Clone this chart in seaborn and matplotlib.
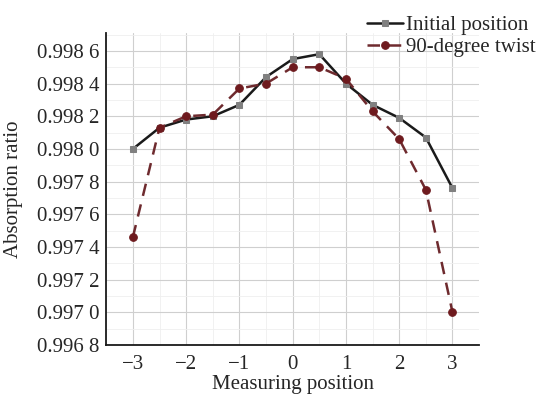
import pandas as pd
import seaborn as sns
import matplotlib.pyplot as plt
from matplotlib.ticker import FixedLocator, MultipleLocator

positions = [-3, -2.5, -2, -1.5, -1, -0.5, 0, 0.5, 1, 1.5, 2, 2.5, 3]
initial = [0.99800, 0.99813, 0.99818, 0.99820, 0.99827, 0.99844, 0.99855,
           0.99858, 0.99840, 0.99827, 0.99819, 0.99807, 0.99776]
twist = [0.99746, 0.99813, 0.99820, 0.99821, 0.99837, 0.99840, 0.99850,
         0.99850, 0.99843, 0.99823, 0.99806, 0.99775, 0.99700]

y_ticks = [0.9968, 0.9970, 0.9972, 0.9974, 0.9976, 0.9978, 0.9980,
           0.9982, 0.9984, 0.9986]
y_labels = ["0.996 8", "0.997 0", "0.997 2", "0.997 4", "0.997 6",
            "0.997 8", "0.998 0", "0.998 2", "0.998 4", "0.998 6"]
x_ticks = [-3, -2, -1, 0, 1, 2, 3]
x_labels = ["\u22123", "\u22122", "\u22121", "0", "1", "2", "3"]

df = pd.DataFrame({"pos": positions, "initial": initial, "twist": twist})

sns.set_style("white")
plt.rcParams["font.family"] = ["Liberation Serif", "DejaVu Serif"]

fig = plt.figure(figsize=(5.42, 3.97), dpi=100)
ax = fig.add_axes([0.196, 0.131, 0.688, 0.786])

sns.lineplot(data=df, x="pos", y="initial", ax=ax,
             color="#1a1a1a", linewidth=1.8,
             marker="s", markersize=5,
             markerfacecolor="#808080", markeredgecolor="#808080",
             label="Initial position")
sns.lineplot(data=df, x="pos", y="twist", ax=ax,
             color="#6e2a2e", linewidth=1.8, linestyle=(0, (5, 3.5)),
             marker="o", markersize=5.5,
             markerfacecolor="#6e1a1e", markeredgecolor="#6e1a1e",
             label="90-degree twist")

ax.set_xlim(-3.5, 3.5)
ax.set_ylim(0.9968, 0.99871)
ax.xaxis.set_major_locator(FixedLocator(x_ticks))
ax.set_xticklabels(x_labels)
ax.xaxis.set_minor_locator(MultipleLocator(0.5))
ax.yaxis.set_major_locator(FixedLocator(y_ticks))
ax.set_yticklabels(y_labels)
ax.yaxis.set_minor_locator(MultipleLocator(0.0001))

ax.grid(which="major", color="#cfcfcf", linewidth=0.8)
ax.grid(which="minor", color="#efefef", linewidth=0.6)
ax.set_axisbelow(True)
ax.tick_params(which="both", length=0, labelsize=15)
ax.tick_params(axis="x", pad=7)
ax.tick_params(axis="y", pad=5)

sns.despine(ax=ax)
for side in ["left", "bottom"]:
    ax.spines[side].set_color("#1a1a1a")
    ax.spines[side].set_linewidth(1.3)

ax.set_xlabel("Measuring position", fontsize=15, labelpad=1)
ax.set_ylabel("Absorption ratio", fontsize=15, labelpad=10)

ax.legend(loc="upper right", bbox_to_anchor=(1.015, 0.998),
          bbox_transform=fig.transFigure, frameon=False, fontsize=15,
          handlelength=1.7, handletextpad=0.15, labelspacing=0.12,
          borderpad=0.2)

plt.savefig("out.png", dpi=100)
